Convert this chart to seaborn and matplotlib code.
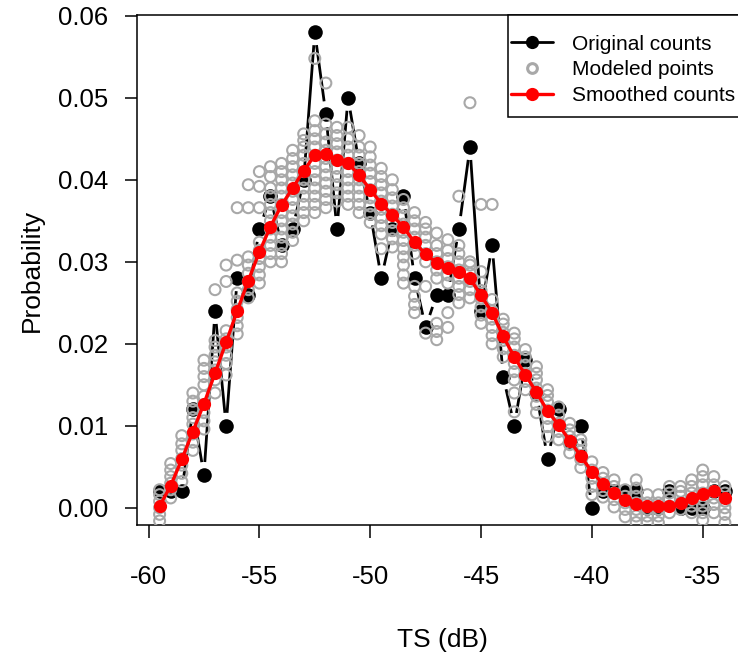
import numpy as np
import pandas as pd
import matplotlib
matplotlib.use("Agg")
import matplotlib.pyplot as plt
from matplotlib.lines import Line2D
from matplotlib.patches import Rectangle
import seaborn as sns

# TS bin centres (dB)
ts_db = [-59.5, -59.0, -58.5, -58.0, -57.5, -57.0, -56.5, -56.0, -55.5, -55.0,
         -54.5, -54.0, -53.5, -53.0, -52.5, -52.0, -51.5, -51.0, -50.5, -50.0,
         -49.5, -49.0, -48.5, -48.0, -47.5, -47.0, -46.5, -46.0, -45.5, -45.0,
         -44.5, -44.0, -43.5, -43.0, -42.5, -42.0, -41.5, -41.0, -40.5, -40.0,
         -39.5, -39.0, -38.5, -38.0, -37.5, -37.0, -36.5, -36.0, -35.5, -35.0,
         -34.5, -34.0]

# observed proportions per bin
original_counts = [0.002, 0.002, 0.002, 0.012, 0.004, 0.024, 0.010, 0.028, 0.026, 0.034,
                   0.038, 0.032, 0.034, 0.040, 0.058, 0.048, 0.034, 0.050, 0.042, 0.036,
                   0.028, 0.034, 0.038, 0.028, 0.022, 0.026, 0.026, 0.034, 0.044, 0.024,
                   0.032, 0.016, 0.010, 0.018, 0.014, 0.006, 0.012, 0.008, 0.010, 0.000,
                   0.002, 0.002, 0.002, 0.002, 0.000, 0.000, 0.002, 0.000, 0.000, 0.000,
                   0.002, 0.002]

# smoothed proportions per bin
smoothed_counts = [0.0002, 0.0027, 0.0059, 0.0093, 0.0127, 0.0164, 0.0202, 0.0240, 0.0277, 0.0312,
                   0.0343, 0.0369, 0.0390, 0.0411, 0.0430, 0.0431, 0.0424, 0.0420, 0.0406, 0.0388,
                   0.0371, 0.0357, 0.0342, 0.0324, 0.0309, 0.0299, 0.0293, 0.0288, 0.0280, 0.0259,
                   0.0238, 0.0209, 0.0184, 0.0162, 0.0141, 0.0118, 0.0101, 0.0082, 0.0063, 0.0044,
                   0.0029, 0.0018, 0.0009, 0.0005, 0.0002, 0.0002, 0.0002, 0.0006, 0.0012, 0.0017,
                   0.0021, 0.0012]

# modeled proportions, one list per bin
modeled_points = [
    [-0.0016, -0.0008, 0.0, 0.0008, 0.0016, 0.0022],
    [0.0012, 0.0022, 0.003, 0.0038, 0.0046, 0.0054],
    [0.0032, 0.0042, 0.0052, 0.006, 0.007, 0.0078, 0.0088],
    [0.007, 0.008, 0.009, 0.0102, 0.011, 0.012, 0.013, 0.014],
    [0.0096, 0.0106, 0.0116, 0.0126, 0.0136, 0.015, 0.016, 0.017, 0.018],
    [0.014, 0.0156, 0.0168, 0.0178, 0.0186, 0.0196, 0.0204, 0.0266],
    [0.0162, 0.0176, 0.0186, 0.0196, 0.0206, 0.0216, 0.0276, 0.0296],
    [0.0212, 0.0222, 0.0232, 0.0242, 0.0252, 0.0262, 0.0302, 0.0366],
    [0.0256, 0.0266, 0.0276, 0.0286, 0.0296, 0.0306, 0.0366, 0.0394],
    [0.0274, 0.0284, 0.0294, 0.0304, 0.0314, 0.0324, 0.0366, 0.0392, 0.041],
    [0.030, 0.031, 0.032, 0.033, 0.034, 0.035, 0.036, 0.037, 0.038, 0.039, 0.0404, 0.0416],
    [0.030, 0.031, 0.032, 0.033, 0.034, 0.035, 0.036, 0.037, 0.038, 0.039, 0.040, 0.041, 0.042],
    [0.0326, 0.0336, 0.0346, 0.0356, 0.0366, 0.0376, 0.0386, 0.0396, 0.0406, 0.0416, 0.0426, 0.0436],
    [0.035, 0.036, 0.037, 0.038, 0.039, 0.040, 0.041, 0.042, 0.043, 0.044, 0.0448, 0.0456],
    [0.036, 0.037, 0.038, 0.039, 0.040, 0.041, 0.042, 0.043, 0.044, 0.045, 0.046, 0.0472, 0.0548],
    [0.0366, 0.0376, 0.0386, 0.0396, 0.0406, 0.0416, 0.0426, 0.0436, 0.0446, 0.0456, 0.0468, 0.0518],
    [0.0374, 0.0384, 0.0394, 0.0404, 0.0414, 0.0424, 0.0434, 0.0444, 0.0454, 0.0464],
    [0.037, 0.038, 0.039, 0.040, 0.041, 0.042, 0.043, 0.044, 0.045, 0.0464],
    [0.036, 0.037, 0.038, 0.039, 0.040, 0.041, 0.042, 0.043, 0.044, 0.0454],
    [0.0348, 0.0358, 0.0368, 0.0378, 0.0388, 0.0398, 0.0408, 0.0418, 0.0428, 0.044],
    [0.0316, 0.0334, 0.0344, 0.0354, 0.0364, 0.0374, 0.0384, 0.0394, 0.0404, 0.0414],
    [0.0318, 0.0328, 0.0338, 0.0348, 0.0358, 0.0368, 0.0378, 0.0388, 0.040],
    [0.0274, 0.0284, 0.0296, 0.0306, 0.0316, 0.0326, 0.0336, 0.0346, 0.0356, 0.0366, 0.0376],
    [0.0238, 0.0248, 0.0258, 0.027, 0.031, 0.032, 0.033, 0.034, 0.035, 0.036],
    [0.0213, 0.027, 0.030, 0.031, 0.032, 0.033, 0.034, 0.0348],
    [0.0205, 0.0215, 0.0225, 0.028, 0.029, 0.030, 0.031, 0.032, 0.0335],
    [0.022, 0.0238, 0.0274, 0.0284, 0.0294, 0.0304, 0.0314, 0.0327],
    [0.025, 0.026, 0.027, 0.028, 0.029, 0.030, 0.031, 0.032, 0.038],
    [0.0256, 0.0266, 0.0276, 0.0286, 0.0296, 0.030, 0.0494],
    [0.0225, 0.0235, 0.0245, 0.0255, 0.0265, 0.0275, 0.0288, 0.037],
    [0.020, 0.021, 0.022, 0.023, 0.024, 0.0254, 0.037],
    [0.0184, 0.0194, 0.0204, 0.0214, 0.0224, 0.023],
    [0.0117, 0.014, 0.0156, 0.0166, 0.0176, 0.0186, 0.0196, 0.0206, 0.0213],
    [0.0144, 0.0154, 0.0164, 0.0174, 0.0184, 0.0193],
    [0.0116, 0.0126, 0.0136, 0.0146, 0.0156, 0.0164, 0.0172],
    [0.0087, 0.0099, 0.0109, 0.0119, 0.0129, 0.0137, 0.0144],
    [0.0083, 0.0093, 0.0103, 0.0113, 0.0123],
    [0.0067, 0.0077, 0.0087, 0.0095, 0.0103],
    [0.0049, 0.0059, 0.0069, 0.0077, 0.0083],
    [0.0016, 0.0026, 0.0036, 0.0046, 0.0056],
    [0.0013, 0.0021, 0.0029, 0.0036, 0.0043],
    [0.0001, 0.001, 0.0018, 0.0026, 0.0034],
    [-0.0011, -0.0002, 0.0006, 0.0014, 0.0022],
    [-0.0018, -0.001, -0.0002, 0.0006, 0.0014, 0.0024, 0.0034],
    [-0.0018, -0.001, -0.0002, 0.0006, 0.0016],
    [-0.0018, -0.001, -0.0002, 0.0006, 0.0016],
    [-0.0006, 0.0002, 0.001, 0.0018, 0.0026],
    [-0.0002, 0.0006, 0.0014, 0.002, 0.0026],
    [-0.0006, 0.0002, 0.001, 0.0018, 0.0026, 0.0034],
    [-0.0015, -0.0006, 0.0002, 0.001, 0.0018, 0.0028, 0.0038, 0.0046],
    [-0.0006, 0.0004, 0.0012, 0.002, 0.0028, 0.0038],
    [-0.0018, -0.0008, 0.0, 0.0008, 0.0018, 0.0026],
]

x_ticks = [-60, -55, -50, -45, -40, -35]
y_ticks = [0.00, 0.01, 0.02, 0.03, 0.04, 0.05, 0.06]
legend_labels = ["Original counts", "Modeled points", "Smoothed counts"]

GRAY = "#A8A8A8"
RED = "#FF0000"

sns.set_style("white")
plt.rcParams["font.family"] = ["Liberation Sans", "DejaVu Sans"]

obs = pd.DataFrame({"ts": ts_db, "prob": original_counts})
smooth = pd.DataFrame({"ts": ts_db, "prob": smoothed_counts})
modeled = pd.DataFrame(
    [(t, p) for t, vals in zip(ts_db, modeled_points) for p in vals],
    columns=["ts", "prob"],
)

fig = plt.figure(figsize=(7.38, 6.58), dpi=100)
ax = fig.add_axes([137 / 738, 1 - 525 / 658, 610.5 / 738, 510 / 658])
ax.set_xlim(-60.52, -32.98)
ax.set_ylim(-0.0021, 0.0601)


def gapped_segments(axis, xs, ys, gap_px):
    """Line pieces between consecutive points, stopping short of each point."""
    pts = axis.transData.transform(np.column_stack([xs, ys]))
    inv = axis.transData.inverted()
    pieces = []
    for p0, p1 in zip(pts[:-1], pts[1:]):
        d = p1 - p0
        length = np.hypot(*d)
        if length <= 2 * gap_px:
            continue
        u = d / length
        pieces.append(inv.transform(np.vstack([p0 + u * gap_px, p1 - u * gap_px])))
    return pieces


# observed counts: line with gaps round the points, then filled dots
for seg in gapped_segments(ax, obs["ts"].values, obs["prob"].values, 13):
    ax.plot(seg[:, 0], seg[:, 1], color="black", lw=2.0, solid_capstyle="butt", zorder=2)
sns.scatterplot(data=obs, x="ts", y="prob", ax=ax, color="black", s=110,
                linewidth=0, edgecolor="black", zorder=3)

# modeled points: open grey circles
sns.scatterplot(data=modeled, x="ts", y="prob", ax=ax, marker="o", s=62,
                facecolors="none", edgecolor=GRAY, linewidth=1.5, zorder=4)

# smoothed counts: red line with dots
sns.lineplot(data=smooth, x="ts", y="prob", ax=ax, color=RED, lw=2.4,
             marker="o", markersize=9.5, markeredgewidth=0, zorder=5)

ax.set_xlim(-60.52, -32.98)
ax.set_ylim(-0.0021, 0.0601)
ax.set_xticks(x_ticks)
ax.set_xticklabels([f"{v:d}" for v in x_ticks])
ax.set_yticks(y_ticks)
ax.set_yticklabels([f"{v:.2f}" for v in y_ticks])
ax.tick_params(axis="both", which="major", direction="out", length=9, width=1.1,
               color="black", labelsize=18.5, labelcolor="black",
               bottom=True, left=True, top=False, right=False)
ax.tick_params(axis="x", pad=20)
ax.tick_params(axis="y", pad=12)
for side in ["left", "bottom", "top", "right"]:
    ax.spines[side].set_color("black")
    ax.spines[side].set_linewidth(1.1)
ax.set_xlabel("TS (dB)", fontsize=19, labelpad=28, color="black")
ax.set_ylabel("Probability", fontsize=19, labelpad=10, color="black")

handles = [
    Line2D([], [], color="black", lw=2.0, marker="o", markersize=9.5,
           markerfacecolor="black", markeredgewidth=0),
    Line2D([], [], color=GRAY, lw=0, marker="o", markersize=7,
           markerfacecolor="none", markeredgecolor=GRAY, markeredgewidth=2.2),
    Line2D([], [], color=RED, lw=2.4, marker="o", markersize=9.5,
           markerfacecolor=RED, markeredgewidth=0),
]
leg = ax.legend(handles, legend_labels, loc="upper right",
                bbox_to_anchor=(1, 1 - 7 / 510), borderaxespad=0, frameon=False,
                fontsize=15, handlelength=2.0, handletextpad=0.9,
                labelspacing=0.33, borderpad=0.6)
for txt in leg.get_texts():
    txt.set_color("black")

# legend box: hugs the line handles on the left, runs to the axes corner
ax.add_patch(Rectangle((0.6077, 0.8), 0.3923, 0.2, transform=ax.transAxes,
                       facecolor="white", edgecolor="black", linewidth=1.1,
                       zorder=6, clip_on=False))
leg.set_zorder(7)

fig.savefig("out.png", dpi=100)
